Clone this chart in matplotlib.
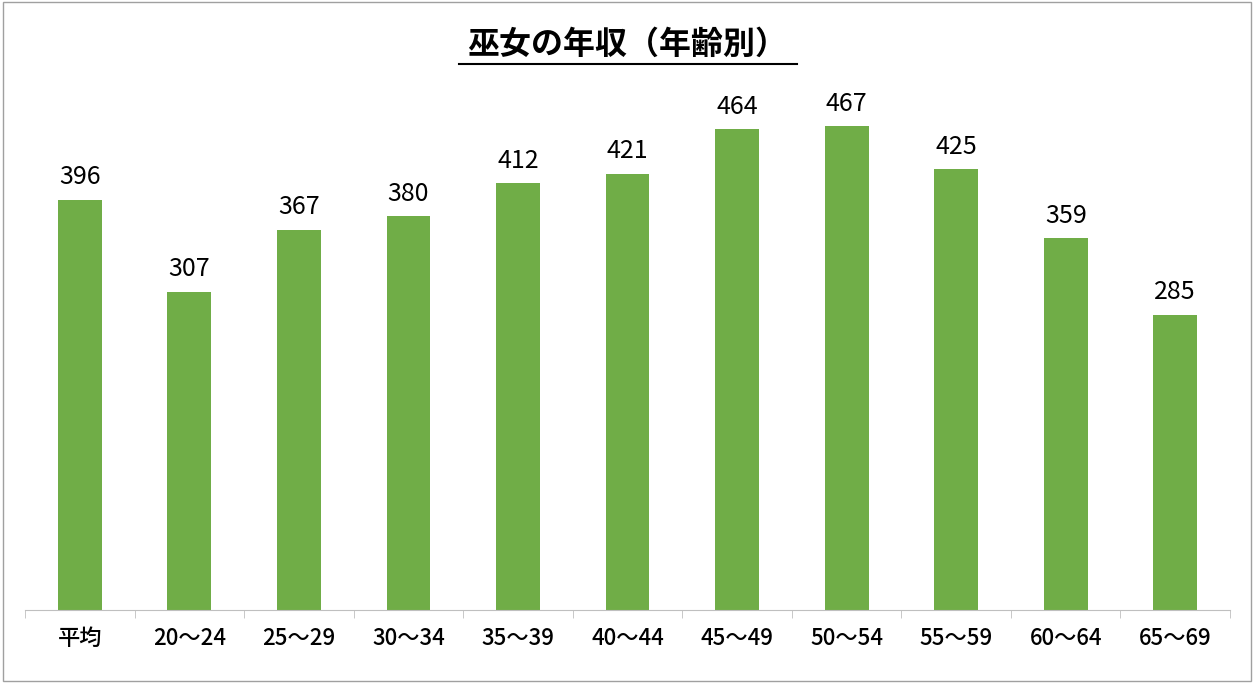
import matplotlib.pyplot as plt
from matplotlib.patches import Rectangle

plt.rcParams['font.family'] = ['Noto Sans CJK JP', 'DejaVu Sans']

categories = ['平均', '20〜24', '25〜29', '30〜34', '35〜39', '40〜44',
              '45〜49', '50〜54', '55〜59', '60〜64', '65〜69']
values = [396, 307, 367, 380, 412, 421, 464, 467, 425, 359, 285]

fig = plt.figure(figsize=(12.54, 6.83), dpi=100)
ax = fig.add_axes([25 / 1254, 73 / 683, 1205 / 1254, 539 / 683])

x = range(len(values))
ax.bar(x, values, width=0.4, color='#70ad47')
for i, v in zip(x, values):
    ax.text(i, v + 9, str(v), ha='center', va='bottom', fontsize=18)

ax.set_xlim(-0.5, len(values) - 0.5)
ax.set_ylim(0, 520)
ax.set_yticks([])
ax.set_xticks(list(x))
ax.set_xticklabels(categories, fontsize=16, fontweight='medium')
ax.set_xticks([i + 0.5 for i in range(-1, len(values))], minor=True)
ax.tick_params(axis='x', which='major', length=0, pad=12)
ax.tick_params(axis='x', which='minor', length=6, color='#bfbfbf')
for s in ['top', 'right', 'left']:
    ax.spines[s].set_visible(False)
ax.spines['bottom'].set_color('#bfbfbf')

fig.text(0.5, 0.935, '巫女の年収（年齢別）', ha='center', va='center',
         fontsize=23, fontweight='bold')
fig.add_artist(plt.Line2D([459 / 1254, 797 / 1254], [0.907, 0.907], color='black', lw=1.5))
fig.add_artist(Rectangle((0.002, 0.003), 0.996, 0.994, fill=False,
                         edgecolor='#a0a0a0', lw=1, transform=fig.transFigure))

fig.savefig('out.png', dpi=100)
